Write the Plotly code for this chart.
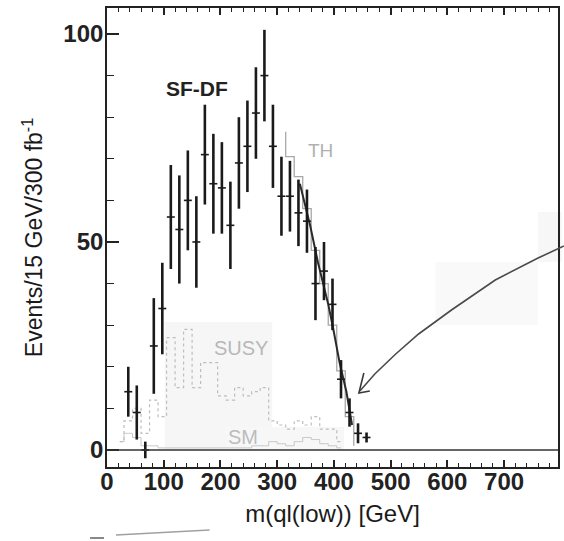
import plotly.graph_objects as go

# ---------------- data ----------------
bin_centers = [37.5, 52.5, 67.5, 82.5, 97.5, 112.5, 127.5, 142.5, 157.5, 172.5,
               187.5, 202.5, 217.5, 232.5, 247.5, 262.5, 277.5, 292.5, 307.5, 322.5,
               337.5, 352.5, 367.5, 382.5, 397.5, 412.5, 427.5, 442.5, 457.5]
sfdf = [14, 9, 0, 25, 34, 56, 53, 60, 50, 71,
        64, 63, 54, 69, 73, 81, 90, 73, 61, 61,
        57, 55, 40, 43, 35, 17, 9, 4, 3]
sfdf_err = [6, 6.5, 2, 11.5, 11, 12.5, 13, 12, 11, 12,
            12, 11, 10.5, 11, 11, 11, 11, 10, 9.5, 8.5,
            8, 7.6, 8.8, 7, 6.2, 4.6, 3.4, 2.4, 1.2]
bin_half = [7] * len(bin_centers)

susy_centers = [22.5, 37.5, 52.5, 67.5, 82.5, 97.5, 112.5, 127.5, 142.5, 157.5,
                172.5, 187.5, 202.5, 217.5, 232.5, 247.5, 262.5, 277.5, 292.5, 307.5,
                322.5, 337.5, 352.5, 367.5, 382.5, 397.5, 412.5]
susy_vals = [2, 7, 10, 4, 12, 8, 27, 15, 29, 15,
             21, 21, 13, 12, 15, 13, 14, 15, 7, 6,
             5, 7, 6, 8, 5, 5, 2]

sm_centers = [22.5, 37.5, 52.5, 67.5, 82.5, 97.5, 112.5, 127.5, 142.5, 157.5,
              172.5, 187.5, 202.5, 217.5, 232.5, 247.5, 262.5, 277.5, 292.5, 307.5,
              322.5, 337.5, 352.5, 367.5, 382.5, 397.5, 412.5]
sm_vals = [2, 4, 3, 1, 1, 0.5, 0.5, 0.5, 0.5, 0.5,
           0.5, 0.5, 0.5, 0.5, 0.5, 0.5, 1, 1, 2, 1.5,
           1, 2, 3, 2.5, 1.5, 1, 0.5]

th_x = [315, 315, 330, 345, 360, 375, 390, 405, 420, 435]
th_y = [76.5, 70.5, 65.7, 58, 48, 40, 30, 19, 8, 1]

fit_x = [340, 358, 372, 390, 399, 410, 422, 432]
fit_y = [64, 54, 45, 35, 29, 21, 14, 6]

x_ticks = [0, 100, 200, 300, 400, 500, 600, 700]
y_ticks = [0, 50, 100]

# ---------------- layout geometry ----------------
W, H = 564, 541
ML, MR, MT, MB = 107, 4, 8, 74
PW, PH = W - ML - MR, H - MT - MB


def px(x, y):
    """pixel -> paper coords (decoration only)."""
    return (x - ML) / PW, (H - MB - y) / PH


FONT = "Liberation Sans, Arial, sans-serif"
INK = "#1a1a1a"

fig = go.Figure()

# faint scan-shaded boxes
for (x0, y0, x1, y1, c) in [(165, 322, 273, 450, "#f6f6f6"),
                            (227, 427, 345, 450, "#f7f7f7"),
                            (437, 262, 540, 325, "#f9f9f9"),
                            (540, 212, 564, 262, "#f7f7f7")]:
    a0, b0 = px(x0, y0)
    a1, b1 = px(x1, y1)
    fig.add_shape(type="rect", xref="paper", yref="paper", x0=a0, x1=a1, y0=b1, y1=b0,
                  fillcolor=c, line_width=0, layer="below")

# SM histogram
fig.add_trace(go.Scatter(x=sm_centers, y=sm_vals, mode="lines", line_shape="hvh",
                         line=dict(color="#c8c8c8", width=1), hoverinfo="skip"))
# SUSY histogram
fig.add_trace(go.Scatter(x=susy_centers, y=susy_vals, mode="lines", line_shape="hvh",
                         line=dict(color="#bdbdbd", width=1.2, dash="dot"), hoverinfo="skip"))
# TH histogram
fig.add_trace(go.Scatter(x=th_x, y=th_y, mode="lines", line_shape="hv",
                         line=dict(color="#a8a8a8", width=1.3), hoverinfo="skip"))

# zero line
fig.add_shape(type="line", xref="x domain", yref="y", x0=0, x1=1, y0=0, y1=0,
              line=dict(color="#333333", width=1.5))

# fit line
fig.add_trace(go.Scatter(x=fit_x, y=fit_y, mode="lines",
                         line=dict(color="#2a2a2a", width=2), hoverinfo="skip"))

# SF-DF data
fig.add_trace(go.Scatter(
    x=bin_centers, y=sfdf, mode="markers",
    marker=dict(size=1, color=INK),
    error_y=dict(type="data", array=sfdf_err, visible=True, color=INK, thickness=2.6, width=0),
    error_x=dict(type="data", array=bin_half, visible=True, color=INK, thickness=1.6, width=0),
))

# labels
fig.add_annotation(x=159, y=87, text="<b>SF-DF</b>", showarrow=False,
                   font=dict(family=FONT, size=21, color="#222222"))
fig.add_annotation(x=377, y=72, text="TH", showarrow=False,
                   font=dict(family=FONT, size=19, color="#b0b0b0"))
fig.add_annotation(x=237, y=24.5, text="SUSY", showarrow=False,
                   font=dict(family=FONT, size=20, color="#b8b8b8"))
fig.add_annotation(x=240, y=3.2, text="SM", showarrow=False,
                   font=dict(family=FONT, size=20, color="#bcbcbc"))

# hand-drawn arrow (decoration)
pts = [(566, 246), (540, 258), (497, 280), (453, 310), (420, 334), (397, 354), (376, 374), (361, 391)]
path = "M " + " L ".join("%.4f,%.4f" % px(*p) for p in pts)
fig.add_shape(type="path", xref="paper", yref="paper", path=path,
              line=dict(color="#4a4a4a", width=1.6))
head = [(365, 373), (360, 393), (371, 391)]
path2 = "M " + " L ".join("%.4f,%.4f" % px(*p) for p in head)
fig.add_shape(type="path", xref="paper", yref="paper", path=path2,
              line=dict(color="#3a3a3a", width=1.6))

# stray scan strokes at bottom left
for (a, b, c, d, col) in [(90, 538, 104, 538, "#555555"), (116, 535, 210, 530, "#a0a0a0")]:
    s0 = px(a, b)
    s1 = px(c, d)
    fig.add_shape(type="line", xref="paper", yref="paper", x0=s0[0], y0=s0[1], x1=s1[0], y1=s1[1],
                  line=dict(color=col, width=1.4))

fig.update_layout(
    width=W, height=H,
    margin=dict(l=ML, r=MR, t=MT, b=MB),
    paper_bgcolor="white", plot_bgcolor="white",
    showlegend=False,
    font=dict(family=FONT, color=INK),
)
fig.update_xaxes(
    range=[0, 795], tickvals=x_ticks, ticktext=["<b>%d</b>" % v for v in x_ticks],
    ticks="inside", ticklen=7, tickwidth=1.5, tickcolor="#222",
    minor=dict(ticks="inside", dtick=20, ticklen=4, tickwidth=1.2, tickcolor="#222"),
    showline=True, linecolor="#222", linewidth=1.6, mirror="allticks",
    showgrid=False, zeroline=False, ticklabelstandoff=-8,
    tickfont=dict(family=FONT, size=24, color="#222"),
    title=dict(text="m(ql(low)) [GeV]", font=dict(family=FONT, size=24, color=INK), standoff=12),
)
fig.update_yaxes(
    range=[-4.1, 106.25], tickvals=y_ticks, ticktext=["<b>%d</b>" % v for v in y_ticks],
    ticks="inside", ticklen=12, tickwidth=1.5, tickcolor="#222",
    minor=dict(ticks="inside", dtick=10, ticklen=7, tickwidth=1.2, tickcolor="#222"),
    showline=True, linecolor="#222", linewidth=1.6, mirror=True,
    showgrid=False, zeroline=False, ticklabelstandoff=-3,
    tickfont=dict(family=FONT, size=24, color="#222"),
    title=dict(text="Events/15 GeV/300 fb<sup>-1</sup>", font=dict(family=FONT, size=23, color=INK),
               standoff=14),
)

fig.write_html("out.html")
